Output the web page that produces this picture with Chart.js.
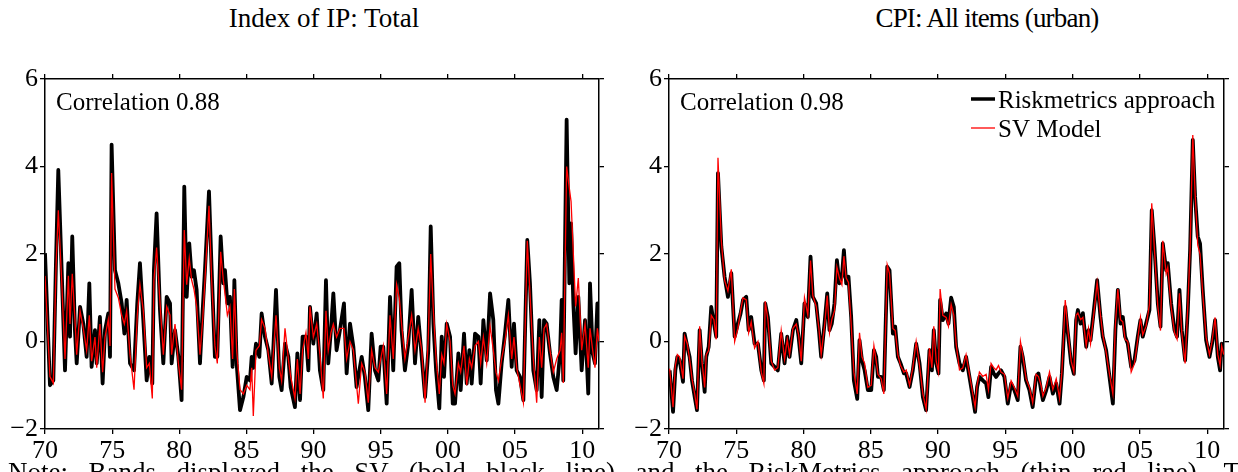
<!DOCTYPE html>
<html>
<head>
<meta charset="utf-8">
<script src="https://cdn.jsdelivr.net/npm/chart.js@4.4.1/dist/chart.umd.min.js"></script>
<style>
  body { margin: 0; width: 1238px; height: 472px; overflow: hidden; background: #fff; position: relative; font-family: 'Liberation Serif', serif; }
  .tit { position: absolute; top: 5px; font-size: 27px; line-height: 27px; white-space: nowrap; transform: translateX(-50%); color: #000; }
  canvas { position: absolute; top: 0; }
  #note { position: absolute; left: 8px; top: 459px; width: 1232px; font-size: 27px; line-height: 27px; text-align: justify; text-align-last: justify; color: #000; }
</style>
</head>
<body>
<div class="tit" style="left:324px">Index of IP: Total</div>
<div class="tit" style="left:987px; letter-spacing:-0.8px">CPI: All items (urban)</div>
<canvas id="ipChart" width="620" height="472" style="left:0"></canvas>
<canvas id="cpiChart" width="618" height="472" style="left:620px"></canvas>
<div id="note">Note: Bands displayed the SV (bold black line) and the RiskMetrics approach (thin red line). T</div>
<script>
// axis setup
const xMin = 1970, xMax = 2011.25;
const xTickValues = [1970, 1975, 1980, 1985, 1990, 1995, 2000, 2005, 2010];
const xTickLabels = ['70', '75', '80', '85', '90', '95', '00', '05', '10'];
const yTickValues = [-2, 0, 2, 4, 6];
const yTickLabels = ['\u22122', '0', '2', '4', '6'];
const seriesNames = ['Riskmetrics approach', 'SV Model'];

// Index of IP: Total
const ipYears = [1970.00,1970.37,1970.62,1970.82,1970.99,1971.24,1971.49,1971.74,1971.86,1972.03,1972.23,1972.36,1972.61,1972.85,1973.10,1973.30,1973.47,1973.72,1973.85,1974.09,1974.29,1974.47,1974.71,1974.84,1974.96,1975.21,1975.46,1975.71,1975.91,1976.08,1976.33,1976.63,1976.87,1977.07,1977.32,1977.57,1977.77,1977.99,1978.11,1978.31,1978.56,1978.81,1979.06,1979.31,1979.43,1979.68,1979.93,1980.17,1980.37,1980.55,1980.74,1980.92,1981.09,1981.29,1981.54,1981.74,1981.91,1982.21,1982.41,1982.65,1982.83,1983.08,1983.28,1983.40,1983.58,1983.77,1983.97,1984.10,1984.27,1984.52,1984.77,1985.02,1985.26,1985.39,1985.51,1985.71,1985.96,1986.13,1986.38,1986.63,1986.88,1987.20,1987.45,1987.62,1987.87,1988.12,1988.29,1988.61,1988.79,1988.99,1989.18,1989.43,1989.61,1989.73,1989.98,1990.23,1990.47,1990.72,1990.92,1991.09,1991.29,1991.47,1991.71,1991.96,1992.26,1992.46,1992.71,1992.96,1993.20,1993.33,1993.58,1993.82,1994.07,1994.32,1994.57,1994.82,1994.99,1995.19,1995.44,1995.69,1995.93,1996.18,1996.38,1996.55,1996.80,1997.05,1997.30,1997.55,1997.79,1998.05,1998.30,1998.54,1998.72,1998.92,1999.12,1999.36,1999.54,1999.71,1999.91,2000.16,2000.36,2000.53,2000.78,2000.95,2001.20,2001.40,2001.60,2001.77,2002.02,2002.27,2002.44,2002.64,2002.89,2003.14,2003.38,2003.58,2003.76,2004.00,2004.25,2004.50,2004.75,2004.92,2005.12,2005.37,2005.62,2005.91,2006.11,2006.36,2006.61,2006.81,2006.98,2007.16,2007.35,2007.60,2007.85,2008.10,2008.35,2008.47,2008.59,2008.84,2009.04,2009.17,2009.34,2009.51,2009.71,2009.96,2010.21,2010.45,2010.58,2010.78,2010.95,2011.13,2011.25];
const ipRisk = [2.02,-1.00,-0.89,1.86,3.92,1.63,-0.66,1.79,0.11,2.40,0.26,-0.50,0.79,0.41,-0.35,1.33,-0.58,0.26,-0.50,0.56,-0.96,0.26,0.64,-0.35,4.50,1.63,1.33,0.87,0.18,0.95,-0.50,-0.66,0.87,1.79,0.49,-0.89,-0.35,-0.96,1.63,2.93,0.72,-0.50,1.02,0.87,-0.50,0.26,-0.35,-1.34,3.54,1.02,2.24,1.48,1.63,1.18,-0.50,0.72,1.63,3.43,1.63,-0.35,-0.35,2.40,1.33,1.63,0.87,1.02,-0.58,1.40,-0.50,-1.57,-1.27,-0.81,-0.89,-0.35,-0.60,-0.05,-0.35,0.64,0.11,-0.20,-0.96,1.18,-0.81,-1.11,-0.05,-0.35,-1.04,-1.50,-0.27,-1.34,0.11,0.11,-0.66,0.79,-0.05,0.64,-0.66,-1.11,1.40,-0.50,0.26,1.10,-0.20,0.26,0.87,-0.73,0.41,-0.12,-1.04,-0.80,-0.35,-0.81,-1.57,0.18,-0.66,-0.89,-0.12,-0.12,-1.42,1.02,-0.66,1.71,1.79,0.26,-0.66,-0.05,1.18,-0.50,0.56,-0.35,-1.27,-0.20,2.63,0.41,-0.66,-1.53,0.11,-0.81,0.41,0.11,-1.42,-1.42,-0.27,-1.11,0.18,-0.96,-0.20,-0.96,0.18,0.11,-0.96,0.49,-0.43,1.10,0.49,-1.11,-1.42,-0.50,0.18,0.95,-0.58,0.41,-0.66,-0.81,-1.34,2.32,1.33,-0.66,-1.11,0.49,-1.27,0.49,0.41,-0.27,-0.81,-1.11,-0.27,0.95,-0.89,5.07,1.33,2.70,0.87,-0.27,1.02,-0.66,0.49,-1.19,1.33,-0.27,-0.50,0.87,0.11];
const ipSV = [1.50,-0.80,-0.95,1.70,3.00,1.40,-0.40,1.50,0.40,1.55,0.50,-0.30,0.70,0.30,-0.20,0.60,-0.45,0.10,-0.60,0.40,-0.70,0.10,0.50,-0.10,3.85,1.20,1.00,0.60,0.40,0.70,-0.30,-1.10,0.60,1.30,0.70,-0.60,-0.50,-1.30,1.40,2.15,0.90,-0.30,0.80,0.60,-0.30,0.40,-0.50,-1.10,2.55,1.30,1.90,1.40,1.20,0.80,-0.30,0.50,1.40,3.10,1.40,-0.10,-0.50,2.05,1.40,1.10,0.60,0.80,-0.40,1.20,-0.20,-1.10,-1.20,-1.00,-1.10,-0.60,-1.70,-0.20,-0.10,0.50,0.30,-0.30,-0.80,0.60,-0.60,-0.90,0.30,-0.40,-0.80,-1.30,-0.40,-1.20,-0.20,0.20,-0.40,0.80,0.10,0.40,-0.30,-1.30,0.70,-0.20,0.20,0.40,0.10,0.30,0.30,-0.40,0.00,-0.20,-1.00,-1.42,-0.50,-0.70,-1.40,-0.20,-0.60,-0.70,-0.40,-0.10,-1.20,0.60,-0.40,1.30,1.00,0.40,-0.40,0.10,0.60,-0.20,0.30,-0.20,-1.40,0.10,2.00,0.70,-0.40,-1.20,-0.30,-0.50,0.40,0.00,-1.00,-1.20,-0.50,-0.70,-0.10,-1.00,-0.40,-0.60,-0.10,0.00,-0.50,0.10,-0.50,0.35,-0.20,-0.70,-0.90,-0.40,0.00,0.60,-0.40,0.10,-0.60,-1.00,-1.40,2.30,1.10,-0.40,-1.40,0.10,-0.60,0.30,0.40,-0.20,-0.70,-0.40,-0.20,0.20,-0.95,4.00,3.50,3.20,2.00,0.80,1.45,-0.20,0.40,-0.60,0.30,-0.20,-0.60,0.30,0.00];

// CPI: All items (urban)
const cpiYears = [1970.05,1970.30,1970.47,1970.62,1970.79,1971.04,1971.16,1971.36,1971.53,1971.71,1971.91,1972.08,1972.28,1972.45,1972.65,1972.77,1972.95,1973.14,1973.34,1973.51,1973.64,1973.89,1974.13,1974.38,1974.63,1974.88,1975.12,1975.32,1975.50,1975.74,1975.92,1976.11,1976.36,1976.61,1976.86,1977.05,1977.15,1977.35,1977.60,1977.85,1978.09,1978.34,1978.59,1978.79,1978.96,1979.21,1979.46,1979.63,1979.83,1980.07,1980.32,1980.52,1980.69,1980.94,1981.14,1981.31,1981.56,1981.76,1981.93,1982.10,1982.30,1982.48,1982.67,1982.85,1983.00,1983.17,1983.34,1983.54,1983.74,1983.99,1984.16,1984.34,1984.54,1984.78,1985.03,1985.23,1985.40,1985.53,1985.77,1985.97,1986.22,1986.39,1986.64,1986.81,1987.01,1987.21,1987.46,1987.63,1987.88,1988.12,1988.37,1988.62,1988.87,1989.11,1989.36,1989.54,1989.68,1989.86,1990.03,1990.15,1990.35,1990.60,1990.77,1990.97,1991.17,1991.34,1991.59,1991.84,1992.08,1992.33,1992.58,1992.75,1992.90,1993.07,1993.32,1993.57,1993.74,1993.94,1994.14,1994.31,1994.49,1994.68,1994.93,1995.18,1995.43,1995.67,1995.92,1996.12,1996.29,1996.54,1996.79,1997.03,1997.28,1997.46,1997.65,1997.79,1998.04,1998.28,1998.53,1998.78,1999.03,1999.20,1999.45,1999.65,1999.89,2000.09,2000.26,2000.39,2000.59,2000.76,2001.01,2001.18,2001.33,2001.58,2001.82,2002.07,2002.24,2002.49,2002.74,2002.99,2003.18,2003.36,2003.56,2003.73,2003.90,2004.10,2004.35,2004.60,2004.84,2005.04,2005.21,2005.46,2005.71,2005.88,2006.08,2006.33,2006.53,2006.70,2006.95,2007.07,2007.32,2007.57,2007.76,2007.94,2008.11,2008.36,2008.56,2008.73,2008.93,2009.10,2009.30,2009.47,2009.67,2009.92,2010.17,2010.36,2010.59,2010.79,2010.96,2011.08,2011.23];
const cpiRisk = [-0.66,-1.61,-0.66,-0.35,-0.43,-0.92,0.18,-0.12,-0.35,-0.89,-1.27,-1.57,0.26,-0.50,-1.15,-0.35,-0.12,0.79,0.41,0.11,3.85,2.17,1.48,1.02,1.56,0.11,0.41,0.64,0.95,1.02,0.26,0.56,-0.05,-0.05,-0.66,-0.89,0.87,0.56,-0.50,-0.58,-0.66,0.18,-0.50,0.11,-0.35,0.26,0.49,0.11,-0.50,0.87,0.56,1.94,1.02,0.87,0.26,-0.35,0.41,1.10,0.26,0.41,0.87,1.86,1.33,1.48,2.09,1.33,1.48,0.56,-0.89,-1.31,0.03,-0.43,-0.66,-1.11,-1.11,-0.20,-0.35,-0.81,-0.81,-1.11,1.71,1.63,0.18,0.34,-0.35,-0.50,-0.73,-0.73,-1.04,-0.66,-0.05,-0.50,-1.27,-1.57,-0.20,-0.66,0.26,-0.50,-0.73,0.95,0.49,0.64,0.41,1.00,0.79,-0.12,-0.50,-0.66,-0.35,-0.81,-1.27,-1.61,-1.04,-0.81,-0.89,-0.96,-1.27,-0.58,-0.73,-0.81,-0.73,-0.66,-0.81,-1.42,-0.96,-1.11,-1.34,-0.12,-0.35,-0.89,-1.11,-1.50,-0.81,-0.73,-1.11,-1.34,-1.11,-0.81,-1.19,-0.96,-1.42,-0.73,0.79,0.18,-0.50,-0.74,0.49,0.72,0.41,0.65,-0.12,0.26,0.03,0.72,1.40,0.56,0.11,-0.20,-0.81,-1.42,0.26,1.18,0.41,0.56,0.11,-0.05,-0.58,-0.43,0.11,0.49,0.11,0.41,0.72,3.00,2.17,0.87,0.34,2.24,1.63,1.79,0.87,0.26,0.11,1.18,0.26,-0.43,0.72,2.09,4.61,3.31,2.40,2.24,1.18,0.03,-0.35,-0.05,0.49,-0.35,-0.66,-0.05,-0.35];
const cpiSV = [-0.62,-1.50,-0.55,-0.30,-0.35,-0.85,0.12,-0.05,-0.40,-0.85,-1.20,-1.55,0.35,-0.45,-1.05,-0.30,-0.20,0.60,0.50,0.05,4.20,2.30,1.40,1.15,1.65,0.00,0.30,0.70,1.00,0.95,0.20,0.45,-0.15,0.00,-0.70,-0.96,0.92,0.50,-0.45,-0.65,-0.60,0.25,-0.40,0.05,-0.30,0.30,0.40,0.15,-0.45,1.00,0.60,1.85,1.05,0.80,0.30,-0.30,0.35,1.05,0.20,0.50,0.70,1.70,1.45,1.30,1.95,1.45,1.35,0.40,-0.70,-1.20,0.20,-0.35,-0.50,-1.05,-1.00,-0.10,-0.45,-0.75,-0.85,-1.20,1.75,1.55,0.30,0.25,-0.30,-0.55,-0.70,-0.65,-1.00,-0.60,0.00,-0.55,-1.20,-1.55,-0.15,-0.60,0.35,-0.45,-0.70,1.20,0.60,0.55,0.35,0.85,0.60,-0.05,-0.65,-0.60,-0.30,-0.75,-1.20,-1.50,-1.00,-0.70,-0.80,-0.75,-1.10,-0.50,-0.60,-0.65,-0.55,-0.70,-0.75,-1.30,-0.90,-1.05,-1.25,0.00,-0.30,-0.85,-1.05,-1.40,-0.75,-0.80,-1.00,-1.25,-1.05,-0.70,-1.10,-0.85,-1.30,-0.70,0.95,0.25,-0.45,-0.70,0.60,0.65,0.50,0.55,-0.10,0.30,-0.05,0.65,1.35,0.60,0.15,-0.25,-0.75,-1.20,0.40,1.20,0.50,0.45,0.05,0.00,-0.70,-0.50,0.05,0.55,0.15,0.35,0.85,3.16,2.10,0.80,0.25,2.30,1.55,1.70,0.80,0.20,0.05,1.10,0.20,-0.50,0.80,2.10,4.72,3.40,2.20,2.00,1.10,0.10,-0.30,0.00,0.55,-0.30,-0.55,-0.10,-0.30];

const tickFont = { family: "'Liberation Serif', serif", size: 26 };

// correlation label and the legend, drawn inside the plot box
const panelText = {
  id: 'panelText',
  afterDraw(chart, args, opts) {
    const ctx = chart.ctx, area = chart.chartArea;
    ctx.save();
    ctx.font = "25px 'Liberation Serif', serif";
    ctx.fillStyle = '#000';
    ctx.textBaseline = 'alphabetic';
    ctx.fillText(opts.corr, area.left + 11, 110);
    if (opts.legendX) {
      chart.data.datasets.forEach((ds, i) => {
        const y = 99 + i * 29;
        ctx.strokeStyle = ds.borderColor;
        ctx.lineWidth = i === 0 ? 3.5 : 1.3;
        ctx.beginPath();
        ctx.moveTo(opts.legendX, y);
        ctx.lineTo(opts.legendX + 24, y);
        ctx.stroke();
        ctx.fillText(ds.label, opts.legendX + 27, y + 9);
      });
    }
    ctx.restore();
  }
};

function setTicks(values) {
  return s => { s.ticks = values.map(v => ({ value: v })); };
}

function makePanel(id, years, risk, sv, corr, yWidth, padRight, legendX) {
  const pts = vals => vals.map((v, i) => ({ x: years[i], y: v }));
  const grid = { drawOnChartArea: false, tickLength: 5, color: '#000', lineWidth: 1.3 };
  const border = { color: '#000', width: 1.5 };
  return new Chart(document.getElementById(id), {
    type: 'line',
    data: {
      datasets: [
        // order: red drawn last, on top of the bold black line
        { label: seriesNames[0], data: pts(risk), borderColor: '#000', borderWidth: 3.8, pointRadius: 0, tension: 0, borderJoinStyle: 'round', order: 2 },
        { label: seriesNames[1], data: pts(sv), borderColor: '#ff0000', borderWidth: 1.3, pointRadius: 0, tension: 0, order: 1 }
      ]
    },
    options: {
      responsive: false,
      animation: false,
      devicePixelRatio: 1,
      layout: { padding: { left: 0, right: padRight, top: 74, bottom: 13 } },
      plugins: {
        legend: { display: false },
        tooltip: { enabled: false },
        panelText: { corr: corr, legendX: legendX }
      },
      scales: {
        x: {
          type: 'linear', position: 'bottom', min: xMin, max: xMax,
          afterBuildTicks: setTicks(xTickValues),
          afterFit: s => { s.height = 30; },
          ticks: { callback: (v, i) => xTickLabels[i], font: tickFont, color: '#000', padding: 2, maxRotation: 0, autoSkip: false },
          grid: grid, border: border
        },
        xTop: {
          type: 'linear', position: 'top', min: xMin, max: xMax,
          afterBuildTicks: setTicks(xTickValues),
          afterFit: s => { s.height = 5; },
          ticks: { display: false },
          grid: grid, border: border
        },
        y: {
          type: 'linear', position: 'left', min: -2, max: 6,
          afterBuildTicks: setTicks(yTickValues),
          afterFit: s => { s.width = yWidth; },
          ticks: { callback: (v, i) => yTickLabels[i], font: tickFont, color: '#000', padding: 2 },
          grid: grid, border: border
        },
        yRight: {
          type: 'linear', position: 'right', min: -2, max: 6,
          afterBuildTicks: setTicks(yTickValues),
          afterFit: s => { s.width = 5; },
          ticks: { display: false },
          grid: grid, border: border
        }
      }
    },
    plugins: [panelText]
  });
}

makePanel('ipChart', ipYears, ipRisk, ipSV, 'Correlation 0.88', 45, 16, null);
makePanel('cpiChart', cpiYears, cpiRisk, cpiSV, 'Correlation 0.98', 49, 9, 351);
</script>
</body>
</html>
